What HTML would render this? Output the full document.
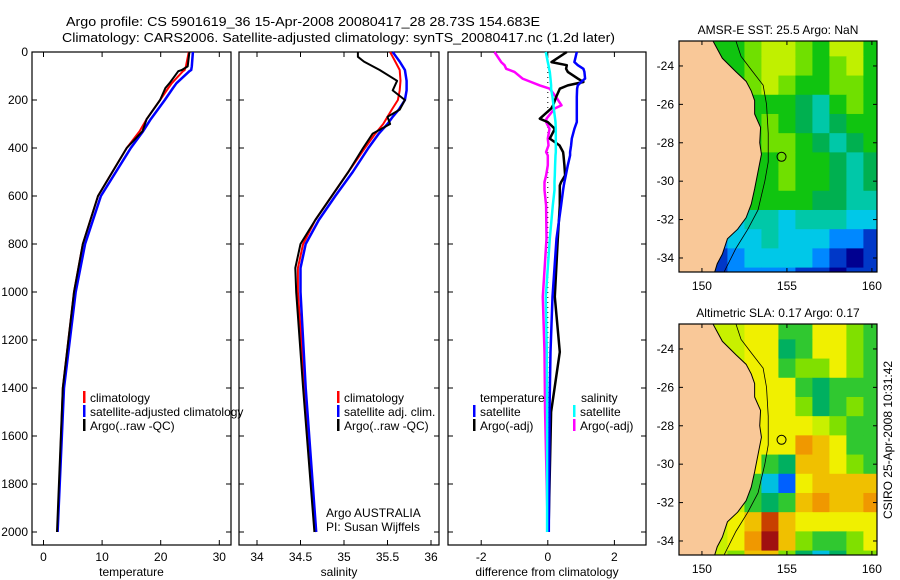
<!DOCTYPE html>
<html><head><meta charset="utf-8"><style>
html,body{margin:0;padding:0;background:#fff}
svg{display:block;font-family:"Liberation Sans",sans-serif}
text{font-size:12px;fill:#000}
</style></head><body>
<svg id="fig" width="900" height="580" viewBox="0 0 900 580" xmlns="http://www.w3.org/2000/svg">
<rect width="900" height="580" fill="#fff"/>
<text x="66" y="26" textLength="474" lengthAdjust="spacingAndGlyphs" style="font-size:13px">Argo profile: CS 5901619_36 15-Apr-2008 20080417_28 28.73S 154.683E</text>
<text x="62" y="42" textLength="553" lengthAdjust="spacingAndGlyphs" style="font-size:13px">Climatology: CARS2006. Satellite-adjusted climatology: synTS_20080417.nc (1.2d later)</text>
<g id="panels"></g>
<g id="maps"></g>
<text transform="translate(892,440) rotate(-90)" text-anchor="middle">CSIRO 25-Apr-2008 10:31:42</text>
</svg>
<script>
// ---- profile data ----
const tempP = [0,60,75,80,130,150,200,280,330,400,600,800,1000,1400,2000];
const tempClim = [24.8,24.3,24.1,23.8,21.9,21.3,19.9,17.6,16.4,14.2,9.3,6.7,5.2,3.3,2.4];
const tempSat  = [25.5,25.3,25.2,24.9,22.7,22.1,20.7,18.3,17.0,14.9,9.8,7.1,5.5,3.5,2.4];
const tempArgo = [24.9,24.6,23.6,23.0,21.5,20.8,19.9,17.6,16.9,14.2,9.3,6.7,5.2,3.3,2.3];
const salP = [0,20,40,75,120,160,200,240,270,300,340,400,500,600,700,800,900,1000,1400,2000];
const salClim = [35.53,35.56,35.59,35.64,35.65,35.64,35.62,35.55,35.5,35.45,35.36,35.24,35.05,34.86,34.67,34.53,34.47,34.47,34.55,34.68];
const salSat  = [35.56,35.6,35.64,35.7,35.72,35.72,35.70,35.63,35.56,35.5,35.4,35.28,35.1,34.9,34.71,34.56,34.5,34.5,34.56,34.68];
const salArgo = [35.16,35.16,35.23,35.41,35.61,35.56,35.7,35.64,35.5,35.53,35.33,35.22,35.05,34.86,34.67,34.5,34.44,34.45,34.53,34.66];
const diffP = [0,42,55,70,83,111,125,139,153,188,222,236,278,292,320,361,389,417,431,472,514,542,556,575,639,778,1020,1250,1500,2000];
const dTempSat  = [0.87,0.8,0.9,1.07,1.1,1.12,1.0,0.9,0.88,0.87,0.87,0.87,0.87,0.87,0.8,0.72,0.7,0.67,0.67,0.6,0.54,0.5,0.48,0.46,0.4,0.26,0.14,0.08,0.05,0.03];
const dTempArgo = [0.57,0.11,0.57,0.55,0.6,0.9,1.07,0.6,0.36,0.25,0.16,0.1,-0.24,0.0,0.21,0.06,0.35,0.46,0.47,0.5,0.52,0.4,0.36,0.36,0.36,0.3,0.21,0.36,0.1,0.02];
const dSalSat   = [-0.06,0.0,0.02,0.04,0.06,0.08,0.09,0.1,0.1,0.14,0.17,0.18,0.22,0.23,0.24,0.24,0.24,0.24,0.23,0.22,0.21,0.2,0.2,0.2,0.15,0.06,-0.06,-0.03,-0.02,-0.02];
const dSalArgo  = [-1.6,-1.4,-1.3,-1.25,-1.0,-0.76,-0.5,-0.24,0.06,0.25,0.41,0.2,-0.04,-0.05,0.05,0.0,0.02,-0.05,0.0,0.0,-0.05,-0.1,-0.1,-0.1,-0.05,-0.04,-0.15,-0.1,-0.08,0.0];
const depthTicks = [0,200,400,600,800,1000,1200,1400,1600,1800,2000];
const tempTicks = [0,10,20,30];
const salTicks = [34,34.5,35,35.5,36];
const diffTicks = [-2,0,2];

const NS='http://www.w3.org/2000/svg';
function mk(tag, attrs, parent){const e=document.createElementNS(NS,tag);for(const k in attrs)e.setAttribute(k,attrs[k]);parent.appendChild(e);return e;}
const yOf = p => 52 + p*0.24;
const yTop=52, yBot=545;
const panels = [
 {id:'temperature', x0:32, x1:231, ox:43.5, k:5.86, ticks:tempTicks, title:'temperature'},
 {id:'salinity', x0:239, x1:439, ox:257, k:87, base:34, ticks:salTicks, title:'salinity'},
 {id:'difference', x0:448, x1:646, ox:547.8, k:33.3, base:0, ticks:diffTicks, title:'difference from climatology'}
];
const G=document.getElementById('panels');
panels.forEach((pn,i)=>{
  const g=mk('g',{},G);
  
  
  pn.xf = v => pn.ox + (v-(pn.base||0))*pn.k;
  const fr=mk('rect',{x:pn.x0,y:yTop,width:pn.x1-pn.x0,height:yBot-yTop,fill:'none',stroke:'#000','stroke-width':1.2},g);
  
  
  depthTicks.forEach(d=>{
    const y=yOf(d);
    mk('line',{x1:pn.x0,x2:pn.x0+5,y1:y,y2:y,stroke:'#000'},g);
    mk('line',{x1:pn.x1,x2:pn.x1-5,y1:y,y2:y,stroke:'#000'},g);
    if(i===0){const t=mk('text',{x:28,y:y+4,'text-anchor':'end'},g);t.textContent=d;
      
      }
  });
  pn.ticks.forEach(v=>{
    const x=pn.xf(v);
    mk('line',{x1:x,x2:x,y1:yTop,y2:yTop+5,stroke:'#000'},g);
    mk('line',{x1:x,x2:x,y1:yBot,y2:yBot-5,stroke:'#000'},g);
    const t=mk('text',{x:x,y:561,'text-anchor':'middle'},g);t.textContent=v;
    
    
  });
  const tt=mk('text',{x:(pn.x0+pn.x1)/2,y:576,'text-anchor':'middle'},g);tt.textContent=pn.title;
  
  
});
function line(pn, P, V, color, w, name){
  const pts=P.map((p,j)=>pn.xf(V[j]).toFixed(1)+','+yOf(p).toFixed(1)).join(' ');
  const l=mk('polyline',{points:pts,fill:'none',stroke:color,'stroke-width':w,'stroke-linejoin':'round'},G);
  
  
}
const pT=panels[0], pS=panels[1], pD=panels[2];
line(pT,tempP,tempClim,'#ff0000',2,'temp-climatology-line');
line(pT,tempP,tempSat,'#0000ff',2.5,'temp-satellite-line');
line(pT,tempP,tempArgo,'#000',2,'temp-argo-line');
line(pS,salP,salClim,'#ff0000',2,'sal-climatology-line');
line(pS,salP,salSat,'#0000ff',2.5,'sal-satellite-line');
line(pS,salP,salArgo,'#000',2,'sal-argo-line');
mk('line',{x1:pD.xf(0),x2:pD.xf(0),y1:yTop,y2:yOf(2000),stroke:'#000','stroke-dasharray':'1,4'},G);
line(pD,diffP,dSalArgo,'#ff00ff',2.5,'diff-sal-argo-line');
line(pD,diffP,dTempArgo,'#000',2.5,'diff-temp-argo-line');
line(pD,diffP,dTempSat,'#0000ff',2.5,'diff-temp-satellite-line');
line(pD,diffP,dSalSat,'#00ffff',2.5,'diff-sal-satellite-line');
function leg(x,y,color,label,name){
  mk('rect',{x:x,y:y-6,width:2.5,height:12,fill:color},G);
  const t=mk('text',{x:x+7,y:y+5},G);t.textContent=label;
  
  
}
leg(83,397,'#ff0000','climatology','legend-climatology');
leg(83,411,'#0000ff','satellite-adjusted climatology','legend-satellite-adjusted');
leg(83,425,'#000','Argo(..raw -QC)','legend-argo');
leg(337,397,'#ff0000','climatology','legend-sal-climatology');
leg(337,411,'#0000ff','satellite adj. clim.','legend-sal-satellite');
leg(337,425,'#000','Argo(..raw -QC)','legend-sal-argo');
leg(473,411,'#0000ff','satellite','legend-temp-satellite');
leg(473,425,'#000','Argo(-adj)','legend-temp-argo');
leg(573,411,'#00ffff','satellite','legend-sal-diff-satellite');
leg(573,425,'#ff00ff','Argo(-adj)','legend-sal-diff-argo');
[['temperature',480,'legend-temperature-heading'],['salinity',581,'legend-salinity-heading']].forEach(a=>{
  const t=mk('text',{x:a[1],y:402},G);t.textContent=a[0];
  
  });
[['Argo AUSTRALIA',517,'argo-australia-label'],['PI: Susan Wijffels',531,'pi-label']].forEach(a=>{
  const t=mk('text',{x:326,y:a[1]},G);t.textContent=a[0];
  
  });

// ---- maps ----
const lonW=148.65, lonE=160.3, latN=-22.7, latS=-34.73;
const sstRows = ["gggglyylgyyg","gggglyylglyg","gggglylggllg","gggggggmtglg","ggggglgmtmgg","gggggllgmtmg","gggggglggmtm","gggggglggmtm","ggggggggmmtt","gggcttctttcc","ggbcctcccbbd","ggdbccccbdnd","gndbbbbddndd"];
const slaRows = ["llllyyggyyLg","llllyyGgyyLg","llllyygLLyLg","llllyyygGggg","llllyyyLGgLg","llllyyyylLgg","llllyyyOoygg","llllygGooyLg","llllgcbyoooo","llllgGgoOooO","lllyoroyyyyy","lllyORoLggLy","lllLooLGcGLL"];
const sstPal = {y:'#c0f000',l:'#70e000',g:'#10c410',m:'#00b050',t:'#00c8a8',c:'#00c8e8',b:'#0088ff',d:'#0038c8',n:'#000090'};
const slaPal = {y:'#f0f000',l:'#c8f000',L:'#80e000',g:'#30c830',G:'#00b060',o:'#f0c000',O:'#f09800',r:'#c84000',R:'#a01010',c:'#00c0e0',b:'#0060ff'};
const coast = [[150.65,-22.7],[151.2,-23.6],[152,-24.3],[152.6,-24.8],[152.9,-25.3],[153.1,-25.8],[153.1,-26.5],[153.45,-27.2],[153.4,-28],[153.5,-28.6],[153.3,-29.5],[153.1,-30.4],[152.9,-31.2],[152.6,-31.9],[152.1,-32.5],[151.5,-33],[151.2,-33.8],[150.9,-34.3],[150.75,-34.73]];
const shelf = [[152,-22.7],[152.3,-23.5],[152.9,-24.2],[153.6,-25],[153.8,-26],[153.9,-27.5],[153.9,-29],[153.7,-30],[153.3,-31.5],[152.7,-32.5],[152,-33.5],[151.3,-34.73]];
const floatPos = [154.683,-28.73];
const latTicks=[-24,-26,-28,-30,-32,-34], lonTicks=[150,155,160];
const M=document.getElementById('maps');
function drawMap(cfg){
  const g=mk('g',{},M);
  
  
  const xf=lon=>cfg.x0+(lon-lonW)/(lonE-lonW)*(cfg.x1-cfg.x0);
  const yf=lat=>cfg.y0+(latN-lat)/(latN-latS)*(cfg.y1-cfg.y0);
  const cid='clip'+cfg.name;
  const cp=mk('clipPath',{id:cid},g);mk('rect',{x:cfg.x0,y:cfg.y0,width:cfg.x1-cfg.x0,height:cfg.y1-cfg.y0},cp);
  const cg=mk('g',{'clip-path':'url(#'+cid+')'},g);
  cfg.rows.forEach((r,j)=>{r.split('').forEach((ch,i)=>{
    const lon=148.5+i, lat=-22.5-j;
    const c=mk('rect',{x:xf(lon),y:yf(lat),width:xf(lon+1)-xf(lon)+0.5,height:yf(lat-1)-yf(lat)+0.5,fill:cfg.pal[ch]},cg);
    
    
  });});
  const land=coast.map(p=>xf(p[0])+','+yf(p[1])).concat([xf(lonW-1)+','+yf(latS-1),xf(lonW-1)+','+yf(latN+1)]).join(' ');
  const lp=mk('polygon',{points:land,fill:'#f9c898',stroke:'#000','stroke-width':1},cg);
  
  
  const sp=mk('polyline',{points:shelf.map(p=>xf(p[0])+','+yf(p[1])).join(' '),fill:'none',stroke:'#000','stroke-width':0.8},cg);
  
  
  const fc=mk('circle',{cx:xf(floatPos[0]),cy:yf(floatPos[1]),r:4.5,fill:'none',stroke:'#000','stroke-width':1},cg);
  
  
  mk('rect',{x:cfg.x0,y:cfg.y0,width:cfg.x1-cfg.x0,height:cfg.y1-cfg.y0,fill:'none',stroke:'#000','stroke-width':1.2},g);
  latTicks.forEach(l=>{const y=yf(l);
    mk('line',{x1:cfg.x0,x2:cfg.x0+4,y1:y,y2:y,stroke:'#000'},g);
    mk('line',{x1:cfg.x1,x2:cfg.x1-4,y1:y,y2:y,stroke:'#000'},g);
    const t=mk('text',{x:cfg.x0-5,y:y+4,'text-anchor':'end'},g);t.textContent=String(l);
    
    });
  lonTicks.forEach(l=>{const x=xf(l);
    mk('line',{x1:x,x2:x,y1:cfg.y0,y2:cfg.y0+4,stroke:'#000'},g);
    mk('line',{x1:x,x2:x,y1:cfg.y1,y2:cfg.y1-4,stroke:'#000'},g);
    const t=mk('text',{x:x,y:cfg.y1+18,'text-anchor':'middle'},g);t.textContent=l;
    
    });
  const tt=mk('text',{x:(cfg.x0+cfg.x1)/2,y:cfg.y0-7,'text-anchor':'middle'},g);tt.textContent=cfg.title;
  
  
}
drawMap({name:'sst-map',x0:679,x1:877,y0:41,y1:272,rows:sstRows,pal:sstPal,title:'AMSR-E SST: 25.5 Argo: NaN'});
drawMap({name:'sla-map',x0:679,x1:877,y0:324,y1:555,rows:slaRows,pal:slaPal,title:'Altimetric SLA: 0.17 Argo: 0.17'});
</script>
</body></html>
